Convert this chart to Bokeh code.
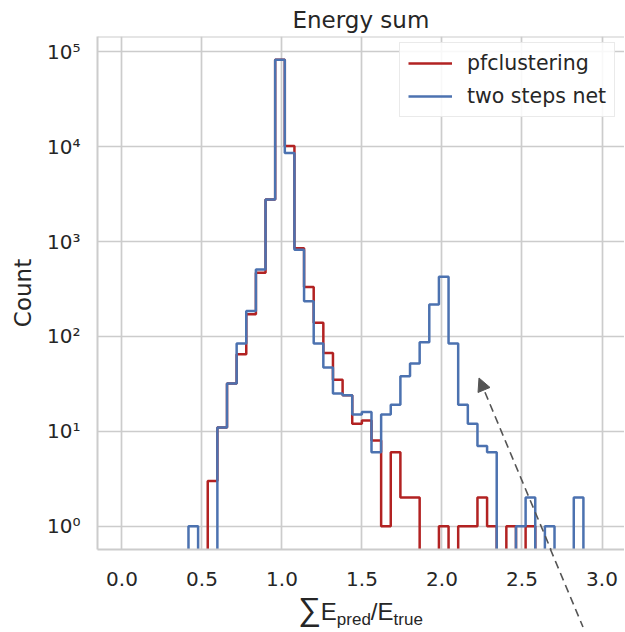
import numpy as np
from bokeh.plotting import figure
from bokeh.layouts import column
from bokeh.models import (Range1d, FixedTicker, CustomJSTickFormatter, PrintfTickFormatter,
                          Legend, LegendItem, Arrow, NormalHead, Span, Div)
from bokeh.embed import file_html
from bokeh.resources import INLINE

# ---- data ----
bin_start = 0.4156
bin_width = 0.0602
pf_counts = [0, 0, 3, 11, 32, 65, 171, 468, 2770, 82400, 10200, 850, 333, 139, 67, 35,
             24, 12, 13, 8, 1, 6, 2, 2, 0, 0, 1, 0, 1, 1, 2, 1, 0, 1, 0, 1, 0, 0, 0, 0, 0]
net_counts = [1, 0, 0, 11, 32, 84, 185, 508, 2770, 82400, 8590, 820, 235, 84, 47, 25,
              24, 15, 16, 6, 15, 19, 38, 52, 87, 217, 425, 84, 19, 12, 7, 6, 0, 0, 1, 2, 0, 1, 0, 0, 2]
series_names = ["pfclustering", "two steps net"]
series_colors = ["#b22222", "#4c72b0"]
x_ticks = [0.0, 0.5, 1.0, 1.5, 2.0, 2.5, 3.0]
y_ticks = [1, 10, 100, 1000, 10000, 100000]

FLOOR = 1e-3
edges = bin_start + bin_width * np.arange(len(net_counts) + 1)


def outline(counts):
    c = np.array(counts, dtype=float)
    c[c <= 0] = FLOOR
    xs = np.repeat(edges, 2)
    ys = np.concatenate([[FLOOR], np.repeat(c, 2), [FLOOR]])
    return xs, ys


TXT = "#262626"
FONT = "DejaVu Sans"
GRID = "#cccccc"

W = 624
H_FIG = 595
H_DIV = 36

y_lo, y_hi = 10 ** -0.2458, 10 ** 5.1616
p = figure(width=W, height=H_FIG, y_axis_type="log",
           x_range=Range1d(-0.153, 3.1406), y_range=Range1d(y_lo, y_hi),
           toolbar_location=None, output_backend="svg",
           min_border_left=97, min_border_right=0, min_border_top=36, min_border_bottom=46)
p.background_fill_color = "white"
p.border_fill_color = "white"
p.outline_line_color = None

p.title.text = "Energy sum"
p.title.align = "left"
p.title.offset = 195
p.title.standoff = 8
p.title.text_font = FONT
p.title.text_font_size = "23px"
p.title.text_font_style = "normal"
p.title.text_color = TXT

for g in (p.xgrid, p.ygrid):
    g.grid_line_color = GRID
    g.grid_line_width = 1.7
p.ygrid.minor_grid_line_color = None

for ax in (p.xaxis, p.yaxis):
    ax.axis_line_color = GRID
    ax.axis_line_width = 2
    ax.major_tick_line_color = None
    ax.minor_tick_line_color = None
    ax.major_tick_out = 0
    ax.major_tick_in = 0
    ax.minor_tick_out = 0
    ax.minor_tick_in = 0
    ax.major_label_text_font = FONT
    ax.major_label_text_font_size = "20px"
    ax.major_label_text_color = TXT

p.xaxis.ticker = FixedTicker(ticks=x_ticks)
p.xaxis.formatter = PrintfTickFormatter(format="%.1f")
p.xaxis.major_label_standoff = 22

p.yaxis.ticker = FixedTicker(ticks=y_ticks, minor_ticks=[])
p.yaxis.formatter = CustomJSTickFormatter(code="""
const sup = ['\u2070','\u00b9','\u00b2','\u00b3','\u2074','\u2075','\u2076','\u2077','\u2078','\u2079'];
const e = Math.round(Math.log10(tick));
return '10' + sup[e];
""")
p.yaxis.major_label_standoff = 17
p.yaxis.axis_label = "Count"
p.yaxis.axis_label_text_font = FONT
p.yaxis.axis_label_text_font_size = "23px"
p.yaxis.axis_label_text_font_style = "normal"
p.yaxis.axis_label_text_color = TXT
p.yaxis.axis_label_standoff = 8

# top spine
p.add_layout(Span(location=y_hi, dimension="width", line_color=GRID, line_width=2))

renderers = []
for counts, col in zip([pf_counts, net_counts], series_colors):
    xs, ys = outline(counts)
    renderers.append(p.line(xs, ys, line_color=col, line_width=2.5))

legend = Legend(items=[LegendItem(label=n, renderers=[r]) for n, r in zip(series_names, renderers)],
                location=(302, 432))
legend.label_text_font = FONT
legend.label_text_font_size = "20.5px"
legend.label_text_color = TXT
legend.glyph_width = 44
legend.glyph_height = 24
legend.label_height = 24
legend.label_standoff = 15
legend.spacing = 9
legend.padding = 8
legend.border_line_color = "#d6d6d6"
legend.border_line_width = 1.3
legend.background_fill_alpha = 0.85
p.add_layout(legend)


def dx(px):
    return (px - 122.5) / 160.0


def dy(py):
    return 10 ** ((526.7 - py) / 94.87)


ARROW_C = "#555555"
p.add_layout(Arrow(x_start=dx(584), y_start=dy(628), x_end=dx(479.5), y_end=dy(378.5),
                   line_color=ARROW_C, line_width=1.6, line_dash="8 5",
                   end=NormalHead(size=13, fill_color=ARROW_C, line_color=ARROW_C)))

# x-axis label (with sub-scripts) and the part of the dashed arrow below the frame
xlabel_html = f"""
<div style="position:relative; width:{W}px; height:{H_DIV}px;">
  <svg style="position:absolute; left:0px; top:-46px; overflow:visible; pointer-events:none"
       width="{W}" height="81">
    <line x1="550.3" y1="0" x2="583" y2="78" stroke="{ARROW_C}" stroke-width="1.6"
          stroke-dasharray="8 5"/>
    <text x="298" y="71" font-family="{FONT}" font-size="24" fill="{TXT}"><tspan font-size="32">&#8721;</tspan>E<tspan font-size="17" dy="5">pred</tspan><tspan dy="-5">/E</tspan><tspan font-size="17" dy="5">true</tspan></text>
  </svg>
</div>
"""
div = Div(text=xlabel_html, width=W, height=H_DIV, margin=(0, 0, 0, 0))

layout = column(p, div, spacing=0)
open("out.html", "w").write(file_html(layout, INLINE))
